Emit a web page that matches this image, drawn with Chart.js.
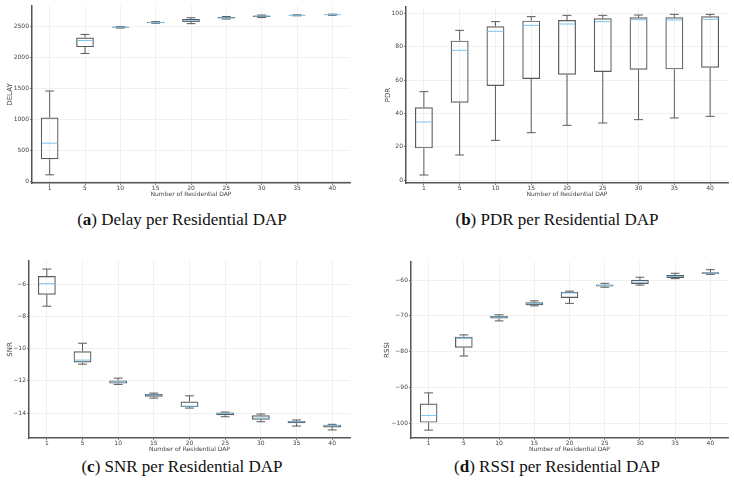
<!DOCTYPE html>
<html><head><meta charset="utf-8">
<script src="https://cdn.jsdelivr.net/npm/chart.js@4.4.0/dist/chart.umd.min.js"></script>
<style>
html,body{margin:0;padding:0;background:#fff;}
body{width:734px;height:492px;position:relative;overflow:hidden;}
canvas{position:absolute;}
.cap{position:absolute;font-family:"Liberation Serif","DejaVu Serif",serif;font-size:17px;color:#111;white-space:nowrap;transform:translateX(-50%);line-height:20px;}
</style></head><body>
<canvas id="ca" width="352" height="200" style="left:0;top:0"></canvas>
<canvas id="cb" width="364" height="200" style="left:370px;top:0"></canvas>
<canvas id="cc" width="352" height="205" style="left:0;top:250px"></canvas>
<canvas id="cd" width="364" height="205" style="left:370px;top:250px"></canvas>
<div class="cap" style="left:182px;top:210px">(<b>a</b>) Delay per Residential DAP</div>
<div class="cap" style="left:557px;top:210px">(<b>b</b>) PDR per Residential DAP</div>
<div class="cap" style="left:182px;top:457px">(<b>c</b>) SNR per Residential DAP</div>
<div class="cap" style="left:557px;top:457px">(<b>d</b>) RSSI per Residential DAP</div>
<script>
// ---- data ----
const categories = ['1','5','10','15','20','25','30','35','40'];
const xTitle = 'Number of Residential DAP';

const delayMin = [107, 2065, 2474, 2552, 2545, 2620, 2644, 2672, 2680];
const delayQ1  = [359, 2167, 2478, 2557, 2572, 2628, 2652, 2676, 2684];
const delayMed = [617, 2274, 2488, 2564, 2592, 2640, 2666, 2680, 2690];
const delayQ3  = [1030, 2323, 2494, 2572, 2622, 2652, 2678, 2684, 2694];
const delayMax = [1459, 2371, 2500, 2578, 2640, 2660, 2684, 2688, 2698];
const delayTicks = [0, 500, 1000, 1500, 2000, 2500];
const delayTickLabels = ['0', '500', '1000', '1500', '2000', '2500'];

const pdrMin = [3, 15, 23.8, 28.4, 32.8, 34.2, 36.2, 37.2, 38.2];
const pdrQ1  = [19, 46.4, 56.4, 60.6, 63.2, 64.8, 66.2, 66.4, 67.4];
const pdrMed = [34.8, 77.8, 89.2, 92.8, 93.6, 95, 96.2, 96, 96.4];
const pdrQ3  = [43.6, 83.6, 92.2, 95.6, 96, 97, 97.6, 97.6, 98.2];
const pdrMax = [53, 89.8, 95, 98, 98.8, 98.8, 99, 99.4, 99.4];
const pdrTicks = [0, 20, 40, 60, 80, 100];
const pdrTickLabels = ['0', '20', '40', '60', '80', '100'];

const snrMin = [-7.36, -10.96, -12.22, -13.07, -13.69, -14.23, -14.54, -14.81, -15.05];
const snrQ1  = [-6.64, -10.86, -12.16, -12.99, -13.63, -14.14, -14.41, -14.64, -14.89];
const snrMed = [-5.96, -10.71, -12.08, -12.88, -13.57, -14.02, -14.31, -14.54, -14.77];
const snrQ3  = [-5.48, -10.16, -11.97, -12.82, -13.28, -13.96, -14.14, -14.50, -14.72];
const snrMax = [-5.05, -9.66, -11.83, -12.76, -12.93, -13.94, -14.06, -14.43, -14.70];
const snrTicks = [-14, -12, -10, -8, -6];
const snrTickLabels = ['\u221214', '\u221212', '\u221210', '\u22128', '\u22126'];

const rssiMin = [-101.9, -81.2, -71.4, -67.2, -66.5, -62.0, -61.4, -59.6, -58.4];
const rssiQ1  = [-99.8, -78.9, -70.7, -67.0, -65.0, -61.8, -61.1, -59.4, -58.3];
const rssiMed = [-97.8, -76.3, -70.3, -66.6, -63.6, -61.5, -60.6, -59.0, -58.1];
const rssiQ3  = [-94.5, -75.8, -70.0, -66.2, -63.3, -61.2, -59.9, -58.6, -57.8];
const rssiMax = [-91.5, -75.3, -69.7, -65.8, -63.1, -60.9, -59.2, -58.1, -57.1];
const rssiTicks = [-100, -90, -80, -70, -60];
const rssiTickLabels = ['\u2212100', '\u221290', '\u221280', '\u221270', '\u221260'];

// ---- style ----
const BOX = '#5a5a5a';
const MED = '#7cc4ea';
const GRID = '#ececec';
const SPINE = '#555555';
const TXT = '#444444';
const FONT = 'DejaVu Sans';

const boxPlugin = {
  id: 'boxWhisker',
  afterDatasetsDraw(chart, args, o) {
    const meta = chart.getDatasetMeta(0);
    const y = chart.scales.y;
    const ctx = chart.ctx;
    ctx.save();
    ctx.lineWidth = 1;
    meta.data.forEach((bar, i) => {
      const p = bar.getProps(['x', 'width'], true);
      const x = p.x, w = p.width, cw = w / 4;
      const yMin = y.getPixelForValue(o.mins[i]);
      const yMax = y.getPixelForValue(o.maxs[i]);
      const yQ1 = y.getPixelForValue(o.q1[i]);
      const yQ3 = y.getPixelForValue(o.q3[i]);
      const yMed = y.getPixelForValue(o.med[i]);
      ctx.strokeStyle = BOX;
      ctx.beginPath();
      ctx.moveTo(x, yQ1); ctx.lineTo(x, yMin);
      ctx.moveTo(x, yQ3); ctx.lineTo(x, yMax);
      ctx.moveTo(x - cw, yMin); ctx.lineTo(x + cw, yMin);
      ctx.moveTo(x - cw, yMax); ctx.lineTo(x + cw, yMax);
      ctx.stroke();
      ctx.strokeStyle = MED;
      ctx.beginPath();
      ctx.moveTo(x - w / 2 + 1, yMed); ctx.lineTo(x + w / 2 - 1, yMed);
      ctx.stroke();
    });
    ctx.restore();
  }
};

function makeChart(id, c) {
  new Chart(document.getElementById(id), {
    type: 'bar',
    data: {
      labels: categories,
      datasets: [{
        data: c.q1.map((v, i) => [v, c.q3[i]]),
        backgroundColor: 'rgba(255,255,255,0)',
        borderColor: BOX,
        borderWidth: 1.2,
        borderSkipped: false,
        barPercentage: 0.5,
        categoryPercentage: 1
      }]
    },
    options: {
      responsive: false,
      animation: false,
      events: [],
      layout: { padding: c.pad },
      plugins: {
        legend: { display: false },
        tooltip: { enabled: false },
        boxWhisker: { mins: c.min, q1: c.q1, med: c.med, q3: c.q3, maxs: c.max }
      },
      scales: {
        x: {
          offset: true,
          grid: { color: GRID, lineWidth: 0.8, offset: false, tickLength: 2, tickColor: SPINE },
          border: { color: SPINE, width: 1.5 },
          ticks: { font: { family: FONT, size: 6 }, color: TXT, padding: 0, maxRotation: 0, autoSkip: false },
          title: { display: true, text: xTitle, font: { family: FONT, size: 6 }, color: TXT, padding: { top: 0, bottom: c.xtb } },
          afterFit(s) { s.height = c.xh; }
        },
        y: {
          min: c.ymin, max: c.ymax,
          afterBuildTicks(s) { s.ticks = c.ticks.map(v => ({ value: v })); },
          grid: { color: GRID, lineWidth: 0.8, tickLength: 2, tickColor: SPINE },
          border: { color: SPINE, width: 1.5 },
          ticks: {
            font: { family: FONT, size: 6 }, color: TXT, padding: 1,
            callback: (v) => { const k = c.ticks.indexOf(v); return k >= 0 ? c.labels[k] : ''; }
          },
          title: { display: true, text: c.ytitle, font: { family: FONT, size: 7 }, color: TXT, padding: { top: c.ytp, bottom: 0 } },
          afterFit(s) { s.width = c.yw; }
        }
      }
    },
    plugins: [boxPlugin]
  });
}

makeChart('ca', { min: delayMin, q1: delayQ1, med: delayMed, q3: delayQ3, max: delayMax,
  ticks: delayTicks, labels: delayTickLabels, ymin: -25, ymax: 2830, ytitle: 'DELAY',
  pad: { top: 6, right: 2, left: 0, bottom: 0 }, yw: 32, xh: 17, ytp: 6, xtb: 1.5 });
makeChart('cb', { min: pdrMin, q1: pdrQ1, med: pdrMed, q3: pdrQ3, max: pdrMax,
  ticks: pdrTicks, labels: pdrTickLabels, ymin: -1.8, ymax: 103.8, ytitle: 'PDR',
  pad: { top: 7, right: 6, left: 0, bottom: 0 }, yw: 36, xh: 17, ytp: 14, xtb: 1.5 });
makeChart('cc', { min: snrMin, q1: snrQ1, med: snrMed, q3: snrQ3, max: snrMax,
  ticks: snrTicks, labels: snrTickLabels, ymin: -15.55, ymax: -4.55, ytitle: 'SNR',
  pad: { top: 11, right: 2, left: 0, bottom: 0 }, yw: 29, xh: 17, ytp: 6, xtb: 1.5 });
makeChart('cd', { min: rssiMin, q1: rssiQ1, med: rssiMed, q3: rssiQ3, max: rssiMax,
  ticks: rssiTicks, labels: rssiTickLabels, ymin: -104.1, ymax: -54.95, ytitle: 'RSSI',
  pad: { top: 12, right: 6, left: 0, bottom: 0 }, yw: 41, xh: 17, ytp: 13, xtb: 1.5 });
</script>
</body></html>
